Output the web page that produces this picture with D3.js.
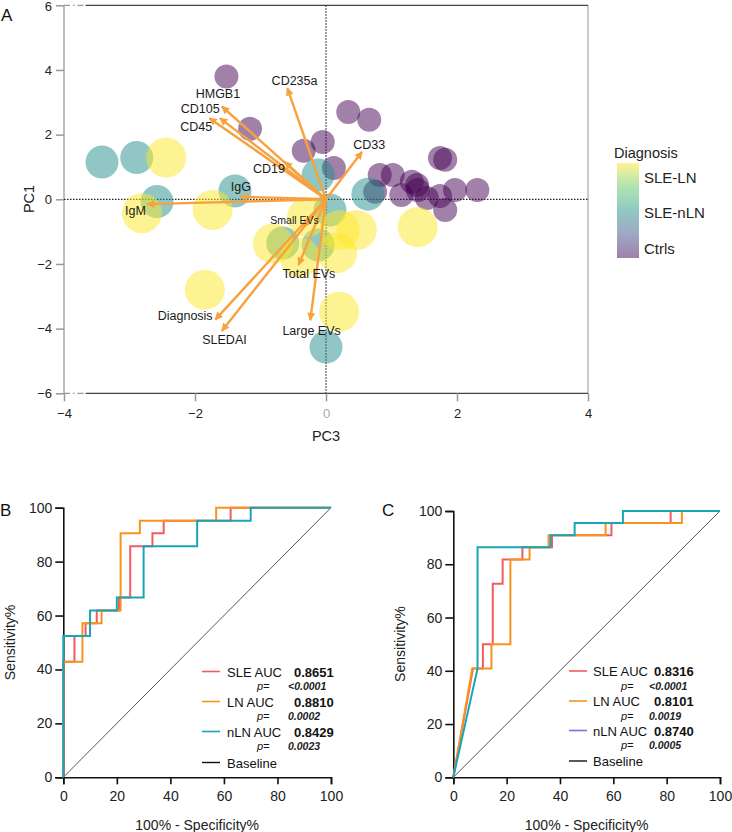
<!DOCTYPE html>
<html><head><meta charset="utf-8">
<script src="https://cdn.jsdelivr.net/npm/d3@7"></script>
<style>body{margin:0;background:#fff} svg{display:block;font-family:Arial,"Liberation Sans",Helvetica,sans-serif}</style>
</head><body><svg id="c" width="732" height="832"></svg>
<script>
// ---------------- DATA ----------------
const pcaGroups = ["SLE-LN", "SLE-nLN", "Ctrls"];
// SLE-LN scores (PC3, PC1)
const lnPC3 = [-2.44, -2.81, -1.73, -1.85, 0.20, -0.81, -0.40, -0.29, 0.21, 0.47, 0.17, 1.40];
const lnPC1 = [1.29, -0.43, -0.33, -2.80, -3.48, -1.37, -1.79, -0.55, -0.95, -0.95, -1.66, -0.86];
// SLE-nLN scores
const nlnPC3 = [-3.42, -2.89, -2.58, -1.39, -0.12, 0.64, 0.06, -0.66, -0.12, 0.00];
const nlnPC1 = [1.15, 1.29, -0.07, 0.26, 0.75, 0.16, -0.33, -1.35, -1.41, -4.57];
// Ctrls scores
const ctrlPC3 = [-1.52, -1.16, -0.34, -0.05, 0.34, 0.66, 0.12, 0.82, 1.02, 0.75, 1.15, 1.31, 1.39, 1.40, 1.54, 1.74, 1.82, 1.97, 1.74, 1.82, 2.31];
const ctrlPC1 = [3.80, 2.18, 1.50, 1.77, 2.70, 2.46, 0.97, 0.75, 0.75, 0.23, 0.13, 0.54, 0.44, 0.29, 0.04, 0.10, -0.33, 0.29, 1.28, 1.22, 0.29];
// loadings (arrow tips) and their label anchors
const loadNames = ["CD235a", "HMGB1", "CD105", "CD45", "CD19", "IgG", "IgM", "CD33", "Small EVs", "Total EVs", "Diagnosis", "SLEDAI", "Large EVs"];
const loadPC3 = [-0.59, -1.59, -1.62, -1.78, -0.63, -1.31, -2.73, 0.55, -0.35, -0.42, -1.69, -1.59, -0.24];
const loadPC1 = [3.44, 2.87, 2.51, 2.51, 1.16, 0.08, -0.15, 1.47, -0.85, -2.03, -3.72, -4.07, -3.74];
const labelPC3 = [-0.48, -1.65, -1.92, -1.98, -0.87, -1.30, -2.91, 0.66, -0.48, -0.26, -2.15, -1.55, -0.22];
const labelPC1 = [3.53, 3.13, 2.66, 2.12, 0.82, 0.26, -0.49, 1.55, -0.77, -2.43, -3.74, -4.46, -4.20];
const pcaXTicks = [-4, -2, 0, 2, 4];
const pcaYTicks = [-6, -4, -2, 0, 2, 4, 6];

// ROC panel B
const bSleFpr = [0, 0, 4.17, 4.17, 8.33, 8.33, 12.5, 12.5, 20.8, 20.8, 25, 25, 33.3, 33.3, 37.5, 37.5, 62.5, 62.5, 100];
const bSleTpr = [0, 42.9, 42.9, 52.4, 52.4, 57.1, 57.1, 61.9, 61.9, 66.7, 66.7, 85.7, 85.7, 90.5, 90.5, 95.2, 95.2, 100, 100];
const bLnFpr = [0, 0, 7.14, 7.14, 14.3, 14.3, 21.4, 21.4, 28.6, 28.6, 57.1, 57.1, 100];
const bLnTpr = [0, 42.9, 42.9, 57.1, 57.1, 61.9, 61.9, 90.5, 90.5, 95.2, 95.2, 100, 100];
const bNlnFpr = [0, 0, 10, 10, 20, 20, 30, 30, 50, 50, 70, 70, 100];
const bNlnTpr = [0, 52.4, 52.4, 61.9, 61.9, 66.7, 66.7, 85.7, 85.7, 95.2, 95.2, 100, 100];
const bAuc = ["0.8651", "0.8810", "0.8429"];
const bP = ["<0.0001", "0.0002", "0.0023"];

// ROC panel C
const cSleFpr = [0, 7.4, 11.1, 11.1, 14.8, 14.8, 18.5, 18.5, 25.9, 25.9, 37.0, 37.0, 59.3, 59.3, 81.5, 81.5, 100];
const cSleTpr = [0, 40.9, 40.9, 50, 50, 72.7, 72.7, 81.8, 81.8, 86.4, 86.4, 90.9, 90.9, 95.5, 95.5, 100, 100];
const cLnFpr = [0, 7.1, 14.3, 14.3, 21.4, 21.4, 28.6, 28.6, 35.7, 35.7, 57.1, 57.1, 85.7, 85.7, 100];
const cLnTpr = [0, 40.9, 40.9, 50, 50, 81.8, 81.8, 86.4, 86.4, 90.9, 90.9, 95.5, 95.5, 100, 100];
const cNlnFpr = [0, 9.1, 9.1, 36.4, 36.4, 45.5, 45.5, 63.6, 63.6, 100];
const cNlnTpr = [0, 40.9, 86.4, 86.4, 90.9, 90.9, 95.5, 95.5, 100, 100];
const cAuc = ["0.8316", "0.8101", "0.8740"];
const cP = ["<0.0001", "0.0019", "0.0005"];

const rocSeries = ["SLE AUC", "LN AUC", "nLN AUC"];
const rocTicks = [0, 20, 40, 60, 80, 100];

// ---------------- DRAW ----------------
const svg = d3.select("#c");
const zip = (a, b) => a.map((v, i) => [v, b[i]]);

// ===== Panel A =====
const xA = d3.scaleLinear().domain([-4, 4]).range([64, 588]);
const yA = d3.scaleLinear().domain([-6, 6]).range([393.3, 5.3]);
const gA = svg.append("g");
const grpColor = d3.scaleOrdinal().domain(pcaGroups).range(["#FDE725", "#21908C", "#440154"]);
const grpR = d3.scaleOrdinal().domain(pcaGroups).range([20, 16.5, 12]);

// frame
gA.append("line").attr("x1", xA(-4)).attr("x2", xA(-4)).attr("y1", yA(6)).attr("y2", yA(-6)).attr("stroke", "#a8a8a8").attr("stroke-width", 1.5);
gA.append("line").attr("x1", xA(4)).attr("x2", xA(4)).attr("y1", yA(6)).attr("y2", yA(-6)).attr("stroke", "#b8b8b8").attr("stroke-width", 1.5);
[6, -6].forEach(v => {
  gA.append("line").attr("x1", xA(-3.67)).attr("x2", xA(4)).attr("y1", yA(v)).attr("y2", yA(v)).attr("stroke", "#444").attr("stroke-width", 1.3);
  gA.append("line").attr("x1", xA(-4)).attr("x2", xA(-3.67)).attr("y1", yA(v)).attr("y2", yA(v)).attr("stroke", "#999").attr("stroke-width", 1.3).attr("stroke-dasharray", "6,3,1.5,3");
});

// axes
const axL = gA.append("g").attr("transform", `translate(${xA(-4)},0)`)
  .call(d3.axisLeft(yA).tickValues(pcaYTicks).tickSize(8).tickPadding(4).tickFormat(d3.format("d")));
axL.select(".domain").remove();
axL.selectAll(".tick line").attr("stroke", "#999").attr("stroke-width", 1.5);
axL.selectAll("text").attr("font-size", 13).attr("fill", "#222").attr("font-family", "Arial, Liberation Sans")
  .attr("dy", d => d === 6 ? "0.42em" : "0.32em");
const axB = gA.append("g").attr("transform", `translate(0,${yA(-6)})`)
  .call(d3.axisBottom(xA).tickValues(pcaXTicks).tickSize(8).tickPadding(7).tickFormat(d3.format("d")));
axB.select(".domain").remove();
axB.selectAll(".tick line").attr("stroke", "#999").attr("stroke-width", 1.5);
axB.selectAll("text").attr("font-size", 13).attr("fill", d => d === 0 ? "#aaa" : "#222").attr("font-family", "Arial, Liberation Sans");

// zero lines
gA.append("line").attr("x1", xA(0)).attr("x2", xA(0)).attr("y1", yA(6)).attr("y2", yA(-6)).attr("stroke", "#222").attr("stroke-width", 1.2).attr("stroke-dasharray", "1.5,1.5");
gA.append("line").attr("x1", xA(-4)).attr("x2", xA(4)).attr("y1", yA(0)).attr("y2", yA(0)).attr("stroke", "#222").attr("stroke-width", 1.2).attr("stroke-dasharray", "1.5,1.5");

// points
const pts = [];
zip(ctrlPC3, ctrlPC1).forEach(p => pts.push({ x: p[0], y: p[1], g: "Ctrls" }));
zip(nlnPC3, nlnPC1).forEach(p => pts.push({ x: p[0], y: p[1], g: "SLE-nLN" }));
zip(lnPC3, lnPC1).forEach(p => pts.push({ x: p[0], y: p[1], g: "SLE-LN" }));
gA.append("g").selectAll("circle").data(pts).join("circle")
  .attr("cx", d => xA(d.x)).attr("cy", d => yA(d.y)).attr("r", d => grpR(d.g))
  .attr("fill", d => grpColor(d.g)).attr("fill-opacity", 0.5);

// arrows
const defs = svg.append("defs");
defs.append("marker").attr("id", "ah").attr("viewBox", "0 0 10 10").attr("refX", 9).attr("refY", 5)
  .attr("markerWidth", 9).attr("markerHeight", 8).attr("markerUnits", "userSpaceOnUse").attr("orient", "auto")
  .append("path").attr("d", "M0,0 L10,5 L0,10 Z").attr("fill", "#f7a23e");
const loads = loadNames.map((n, i) => ({ n, x: loadPC3[i], y: loadPC1[i], lx: labelPC3[i], ly: labelPC1[i] }));
gA.append("g").selectAll("line").data(loads).join("line")
  .attr("x1", xA(0)).attr("y1", yA(0)).attr("x2", d => xA(d.x)).attr("y2", d => yA(d.y))
  .attr("stroke", "#f7a23e").attr("stroke-width", 2.4).attr("marker-end", "url(#ah)");
gA.append("g").selectAll("text").data(loads).join("text")
  .attr("x", d => xA(d.lx)).attr("y", d => yA(d.ly)).attr("text-anchor", "middle")
  .attr("font-size", d => d.n === "Small EVs" ? 10.5 : 12.5).attr("fill", "#1a1a1a").text(d => d.n);

// titles
gA.append("text").attr("x", 326).attr("y", 441).attr("text-anchor", "middle").attr("font-size", 14.5).attr("fill", "#222").text("PC3");
gA.append("text").attr("transform", "translate(34,199) rotate(-90)").attr("text-anchor", "middle").attr("font-size", 14.5).attr("fill", "#222").text("PC1");
svg.append("text").attr("x", 1).attr("y", 21).attr("font-size", 17).attr("fill", "#111").text("A");

// legend
const grad = defs.append("linearGradient").attr("id", "lg").attr("x1", 0).attr("x2", 0).attr("y1", 0).attr("y2", 1);
[0, 0.25, 0.5, 0.75, 1].forEach(t => {
  grad.append("stop").attr("offset", t).attr("stop-color", d3.interpolateViridis(1 - t)).attr("stop-opacity", 0.5);
});
svg.append("text").attr("x", 614).attr("y", 158).attr("font-size", 14.5).attr("fill", "#222").text("Diagnosis");
svg.append("rect").attr("x", 617).attr("y", 163).attr("width", 22).attr("height", 95).attr("fill", "url(#lg)");
pcaGroups.forEach((g, i) => {
  svg.append("text").attr("x", 644).attr("y", [183, 218, 254][i]).attr("font-size", 15).attr("fill", "#222").text(g);
});

// ===== ROC panels =====
const rocColors = ["#f25a5f", "#f7941d", "#19a5b8"];
function rocPanel(opt) {
  const x = d3.scaleLinear().domain([0, 100]).range([opt.x0, opt.x1]);
  const y = d3.scaleLinear().domain([0, 100]).range([opt.y0, opt.y1]);
  const g = svg.append("g");
  const ax = g.append("g").attr("transform", `translate(0,${opt.y0})`)
    .call(d3.axisBottom(x).tickValues(rocTicks).tickSize(7).tickPadding(7));
  const ay = g.append("g").attr("transform", `translate(${opt.x0},0)`)
    .call(d3.axisLeft(y).tickValues(rocTicks).tickSize(8).tickPadding(3));
  [ax, ay].forEach(a => {
    a.select(".domain").attr("stroke", "#111").attr("stroke-width", 1.6);
    a.selectAll(".tick line").attr("stroke", "#111").attr("stroke-width", 1.6);
    a.selectAll("text").attr("font-size", 14).attr("fill", "#222").attr("font-family", "Arial, Liberation Sans");
  });
  g.append("line").attr("x1", x(0)).attr("y1", y(0)).attr("x2", x(100)).attr("y2", y(100)).attr("stroke", "#444").attr("stroke-width", 0.9);
  const line = d3.line().x(d => x(d[0])).y(d => y(d[1]));
  opt.series.forEach((s, i) => {
    g.append("path").attr("d", line(zip(s[0], s[1]))).attr("fill", "none").attr("stroke", rocColors[i]).attr("stroke-width", 2).attr("stroke-linejoin", "miter");
  });
  g.append("text").attr("x", (opt.x0 + opt.x1) / 2).attr("y", 830).attr("text-anchor", "middle").attr("font-size", 14).attr("fill", "#222").text("100% - Specificity%");
  g.append("text").attr("transform", `translate(${opt.x0 - 48},${(opt.y0 + opt.y1) / 2}) rotate(-90)`).attr("text-anchor", "middle").attr("font-size", 14).attr("fill", "#222").text("Sensitivity%");
  g.append("text").attr("x", opt.lx).attr("y", 515.5).attr("font-size", 17).attr("fill", "#111").text(opt.letter);
  // legend
  const L = opt.leg;
  rocSeries.forEach((name, i) => {
    const by = L.rows[i];
    g.append("line").attr("x1", L.lineX).attr("x2", L.lineX + 18).attr("y1", by - 5).attr("y2", by - 5).attr("stroke", L.lineColors[i]).attr("stroke-width", 1.6);
    g.append("text").attr("x", L.textX).attr("y", by).attr("font-size", 13).attr("fill", "#111").text(name);
    g.append("text").attr("x", L.valX).attr("y", by).attr("font-size", 13).attr("font-weight", "bold").attr("fill", "#111").text(opt.auc[i]);
    g.append("text").attr("x", L.pX).attr("y", by + 13.5).attr("font-size", 11).attr("font-style", "italic").attr("fill", "#111").text("p=");
    g.append("text").attr("x", L.pvX).attr("y", by + 13.5).attr("font-size", 10.5).attr("font-style", "italic").attr("font-weight", "bold").attr("fill", "#222").text(opt.p[i]);
  });
  g.append("line").attr("x1", L.lineX).attr("x2", L.lineX + 18).attr("y1", L.baseY - 5).attr("y2", L.baseY - 5).attr("stroke", "#111").attr("stroke-width", 1.4);
  g.append("text").attr("x", L.textX).attr("y", L.baseY).attr("font-size", 13).attr("fill", "#111").text("Baseline");
}

rocPanel({
  x0: 63.3, x1: 331, y0: 777.3, y1: 507.7, letter: "B", lx: 0,
  series: [[bSleFpr, bSleTpr], [bLnFpr, bLnTpr], [bNlnFpr, bNlnTpr]],
  auc: bAuc, p: bP,
  leg: { lineX: 202, textX: 227, valX: 294, pX: 257, pvX: 288, rows: [676.5, 706.5, 736.5], baseY: 767.5, lineColors: rocColors }
});
rocPanel({
  x0: 453.3, x1: 720, y0: 777.3, y1: 511, letter: "C", lx: 382,
  series: [[cSleFpr, cSleTpr], [cLnFpr, cLnTpr], [cNlnFpr, cNlnTpr]],
  auc: cAuc, p: cP,
  leg: { lineX: 569, textX: 593, valX: 654, pX: 621, pvX: 649, rows: [676, 706, 735.5], baseY: 766, lineColors: [rocColors[0], rocColors[1], "#7373e6"] }
});
</script></body></html>
